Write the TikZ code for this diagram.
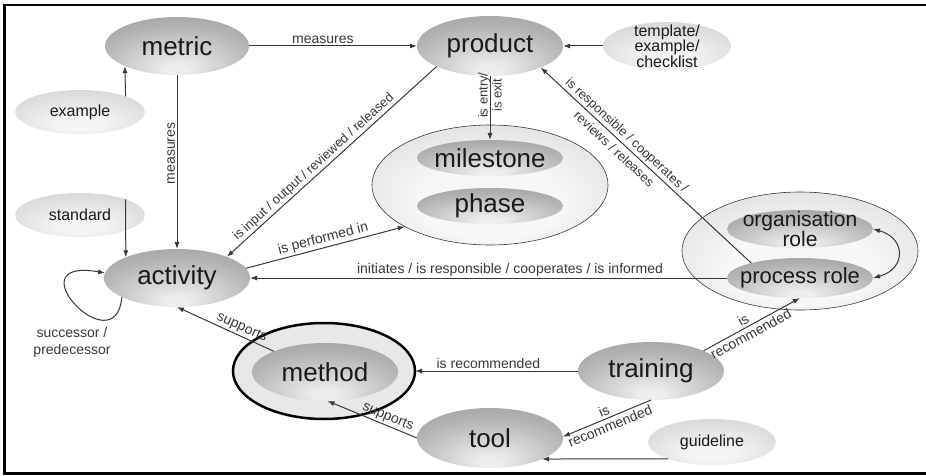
\documentclass[tikz,border=0pt]{standalone}
\usepackage{fontspec}
\setmainfont{Liberation Sans}
\usetikzlibrary{shapes.geometric, arrows.meta}

\definecolor{mainOut}{gray}{0.55}
\definecolor{mainMid}{gray}{0.70}
\definecolor{mainIn}{gray}{0.93}
\definecolor{smOut}{gray}{0.76}
\definecolor{smIn}{gray}{0.96}
\definecolor{ctOut}{gray}{0.78}
\definecolor{ctIn}{gray}{0.97}
\definecolor{lineC}{gray}{0.22}
\definecolor{txtC}{gray}{0.10}
\definecolor{methodFill}{gray}{0.91}

\pgfdeclareradialshading{mainshade}{\pgfpoint{0bp}{-22bp}}{color(0bp)=(mainIn); color(4bp)=(mainIn); color(27bp)=(mainMid); color(50bp)=(mainOut)}
\pgfdeclareradialshading{smallshade}{\pgfpoint{0bp}{-15bp}}{color(0bp)=(smIn); color(8bp)=(smIn); color(50bp)=(smOut)}
\pgfdeclareradialshading{contshade}{\pgfpoint{0bp}{-10bp}}{color(0bp)=(ctIn); color(15bp)=(ctIn); color(50bp)=(ctOut)}

\newcommand\fMain{\fontsize{26}{28}\selectfont}
\newcommand\fRole{\fontsize{21}{20}\selectfont}
\newcommand\fSmall{\fontsize{16}{15.5}\selectfont}
\newcommand\fLbl{\fontsize{14}{17}\selectfont}
\newcommand\fLblB{\fontsize{13}{14}\selectfont}
\newcommand\fLblC{\fontsize{14}{16}\selectfont}
\newcommand\fLblD{\fontsize{13}{15}\selectfont}
\newcommand\fLblE{\fontsize{13}{19}\selectfont}

\begin{document}
\begin{tikzpicture}[x=1pt, y=1pt,
  mainnode/.style={ellipse, shade, shading=mainshade, inner sep=0pt, outer sep=0pt, minimum width=146pt, minimum height=58pt},
  smallnode/.style={ellipse, shade, shading=smallshade, inner sep=0pt, outer sep=0pt, minimum width=130pt, minimum height=44pt},
  container/.style={ellipse, shade, shading=contshade, draw=gray!45!black, line width=0.6pt, inner sep=0pt, outer sep=0pt, minimum width=236pt, minimum height=120pt},
  mainlbl/.style={font=\fMain, text=txtC},
  rolelbl/.style={font=\fRole, text=txtC, align=center},
  smalllbl/.style={font=\fSmall, text=txtC, align=center},
  lbl/.style={font=\fLbl, text=lineC, inner sep=1.5pt},
  edge/.style={draw=lineC, line width=1pt},
  arr/.style={edge, -{Latex[length=7pt,width=5pt]}},
  rarr/.style={edge, {Latex[length=7pt,width=5pt]}-},
  both/.style={edge, {Latex[length=7pt,width=5pt]}-{Latex[length=7pt,width=5pt]}}
]
\useasboundingbox (0,0) rectangle (926,-476);
\draw[line width=2.5pt] (926,-5) -- (4.5,-5) -- (4.5,-473.5) -- (926,-473.5);

% containers
\node[container] (msbox) at (490,-185) {};
\node[container, minimum height=118pt] (rolebox) at (800,-251) {};
\node[ellipse, fill=methodFill, draw=black, line width=2.5pt, inner sep=0pt, outer sep=0pt, minimum width=182pt, minimum height=96pt] (methodbox) at (324,-371) {};

% main nodes
\node[mainnode, minimum width=144pt, label={[mainlbl]center:metric}] (metric) at (177,-46) {};
\node[mainnode, minimum height=60pt, label={[mainlbl]center:product}] (product) at (490,-46) {};
\node[mainnode, label={[mainlbl]center:activity}] (activity) at (177,-278) {};
\node[mainnode, minimum height=36pt, label={[mainlbl]center:milestone}] (milestone) at (490,-158) {};
\node[mainnode, minimum height=36pt, label={[mainlbl]center:phase}] (phase) at (490,-206) {};
\node[mainnode, minimum height=38pt, label={[rolelbl]center:organisation\\role}] (orgrole) at (800,-229) {};
\node[mainnode, minimum height=40pt, label={[font=\fontsize{22}{24}\selectfont, text=txtC]center:process role}] (procrole) at (800,-278) {};
\node[mainnode, label={[mainlbl]center:method}] (method) at (325,-372) {};
\node[mainnode, label={[mainlbl]center:training}] (training) at (651,-371) {};
\node[mainnode, minimum height=60pt, label={[mainlbl]center:tool}] (tool) at (490,-438) {};

% small nodes
\node[smallnode, minimum width=128pt, minimum height=48pt, label={[smalllbl]center:template/\\example/\\checklist}] (template) at (667,-46) {};
\node[smallnode, label={[smalllbl]center:example}] (example) at (80,-112) {};
\node[smallnode, label={[smalllbl]center:standard}] (standard) at (80,-215) {};
\node[smallnode, minimum width=128pt, minimum height=46pt, label={[smalllbl]center:guideline}] (guideline) at (712,-442) {};

% connectors
\draw[arr] (metric.east) -- node[lbl, above, pos=0.44] {measures} (product.west);
\draw[arr] (example.19.44) -- (metric.201.1);
\draw[rarr] (activity.north) -- node[lbl, sloped, above, pos=0.55] {measures} (metric.south);
\draw[arr] (standard.19.44) -- (activity.158.63);
\draw[rarr] (activity.23.5) -- node[lbl, font=\fLblD, sloped, above, pos=0.44] {is input / output / reviewed / released} (product.201.6);
\draw[arr] (activity.8) -- node[lbl, sloped, above, pos=0.5] {is performed in} (msbox.206.8);
\draw[arr] (procrole.west) -- node[lbl, above, pos=0.455] {initiates / is responsible / cooperates / is informed} (activity.east);
\draw[arr] (procrole.163.2) -- node[lbl, font=\fLblE, sloped, align=center, pos=0.62] {is responsible / cooperates /\\reviews / releases} (product.337.5);
\draw[rarr] (milestone.north) -- node[lbl, font=\fLblB, sloped, align=center, pos=0.7] {is entry/\\is exit} (product.south);
\draw[arr] (template.west) -- (product.east);
\draw[both] (orgrole.east) to[out=-15, in=15, looseness=1.8] (procrole.east);
\draw[arr] (activity.199.06) .. controls +(-95:70) and +(170:95) .. (activity.176.9);
\node[lbl, align=center] (looplabel) at (72,-342) {successor /\\predecessor};
\draw[arr] (method.158) -- node[lbl, sloped, above, pos=0.365] {supports} (activity.south);
\draw[arr] (training.west) -- node[lbl, above, pos=0.55] {is recommended} (methodbox.east);
\draw[arr] (training.21) -- node[lbl, font=\fLblC, sloped, align=center, pos=0.45] {is\\recommended} (procrole.south);
\draw[arr] (training.south) -- node[lbl, font=\fLblC, sloped, align=center] {is\\recommended} (tool.1.6);
\draw[arr] (tool.west) -- node[lbl, sloped, above, pos=0.36] {supports} (method.275);
\draw[arr] (guideline.201.6) -- (tool.338);
\end{tikzpicture}
\end{document}
